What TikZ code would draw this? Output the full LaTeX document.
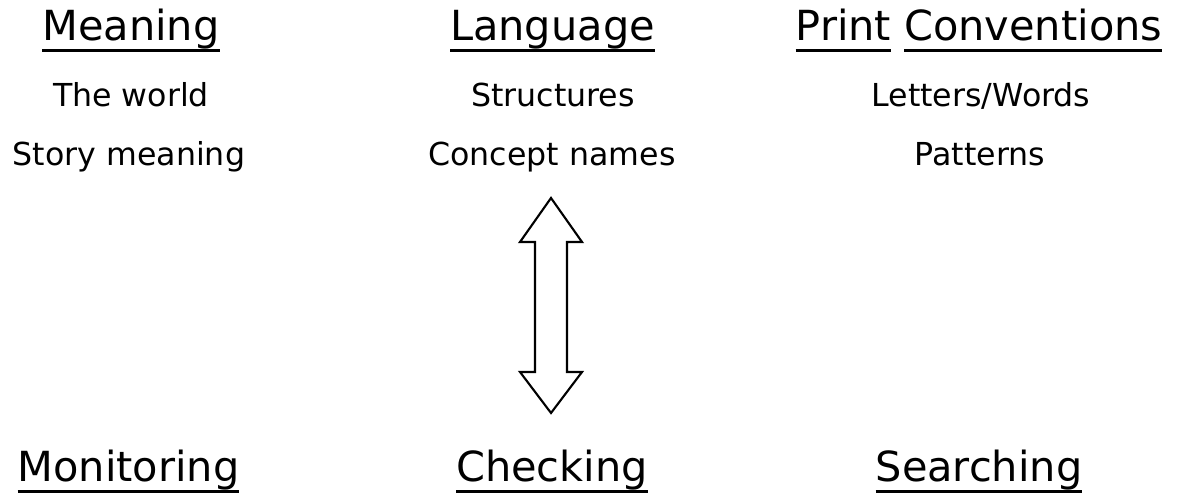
\documentclass[tikz,border=0pt]{standalone}
\usepackage{fontspec}
\setmainfont{DejaVu Sans}

% underline one word, rule sits a bit below the baseline
\newcommand{\uword}[1]{\leavevmode\setbox0=\hbox{#1}\rlap{\vrule height -0.08cm depth 0.11cm width \wd0}\box0\relax}
\newcommand{\headfont}{\fontsize{11.8pt}{14pt}\selectfont}
\newcommand{\itemfont}{\fontsize{9pt}{11pt}\selectfont}

\begin{document}
\begin{tikzpicture}
\tikzstyle{every node}=[inner sep=0pt, anchor=base]
\tikzstyle{head}=[font=\headfont]
\tikzstyle{item}=[font=\itemfont]

\useasboundingbox (0, 0) rectangle (11.79, -4.95);

\node[head] (meaning) at (1.31, -0.41) {\uword{Meaning}}; % cues
\node[head] (language) at (5.525, -0.41) {\uword{Language}};
\node[head] (print) at (9.79, -0.41) {\uword{Print} \uword{Conventions}};

\node[item] (world) at (1.31, -1.07) {The world};
\node[item] (structures) at (5.53, -1.07) {Structures};
\node[item] (letters) at (9.81, -1.07) {Letters/Words};

\node[item] (story) at (1.29, -1.66) {Story meaning};
\node[item] (concept) at (5.52, -1.66) {Concept names};
\node[item] (patterns) at (9.80, -1.66) {Patterns};

\draw[line width=0.6pt, line join=miter] (5.51, -1.98) -- (5.82, -2.42) -- (5.67, -2.42)
    -- (5.67, -3.72) -- (5.82, -3.72) -- (5.51, -4.13) -- (5.20, -3.72)
    -- (5.35, -3.72) -- (5.35, -2.42) -- (5.20, -2.42) -- cycle; % two-way arrow

\node[head] (monitoring) at (1.285, -4.82) {\uword{Monitoring}}; % strategies
\node[head] (checking) at (5.52, -4.82) {\uword{Checking}};
\node[head] (searching) at (9.79, -4.82) {\uword{Searching}};

\end{tikzpicture}
\end{document}
